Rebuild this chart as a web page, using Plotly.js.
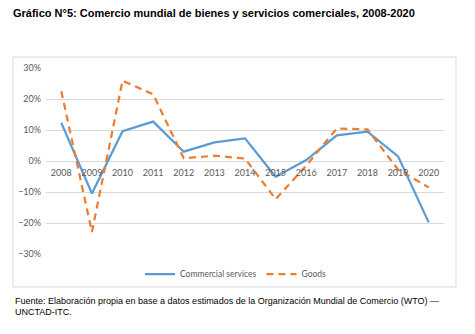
<!DOCTYPE html>
<html>
<head>
<meta charset="utf-8">
<script src="https://cdn.plot.ly/plotly-3.0.1.min.js"></script>
<style>
  html, body { margin: 0; padding: 0; background: #fff; }
  #chart { width: 475px; height: 334px; }
</style>
</head>
<body>
<div id="chart"></div>
<script>
const years = ['2008','2009','2010','2011','2012','2013','2014','2015','2016','2017','2018','2019','2020'];
const commercialServices = [0.123, -0.105, 0.096, 0.127, 0.030, 0.060, 0.073, -0.051, 0.003, 0.083, 0.095, 0.015, -0.198];
const goods = [0.225, -0.229, 0.259, 0.215, 0.009, 0.017, 0.008, -0.123, -0.015, 0.105, 0.102, -0.028, -0.085];
const yTickVals = [-0.3, -0.2, -0.1, 0, 0.1, 0.2, 0.3];
const titleText = 'Gráfico N°5: Comercio mundial de bienes y servicios comerciales, 2008-2020';
const sourceLine1 = 'Fuente: Elaboración propia en base a datos estimados de la Organización Mundial de Comercio (WTO) —';
const sourceLine2 = 'UNCTAD-ITC.';

const W = 475, H = 334;
const m = {l: 46, r: 31, t: 68, b: 80};
const pw = W - m.l - m.r, ph = H - m.t - m.b;
const px = x => (x - m.l) / pw;
const py = y => (H - m.b - y) / ph;

const tickFont = {family: 'Lato, "Liberation Sans", sans-serif', size: 9, color: '#595959'};
const legendFont = {family: 'Lato, "Liberation Sans", sans-serif', size: 8.5, color: '#595959'};

const traces = [
  {x: years, y: commercialServices, type: 'scatter', mode: 'lines', name: 'Commercial services',
   line: {color: '#5b9bd5', width: 2.25}},
  {x: years, y: goods, type: 'scatter', mode: 'lines', name: 'Goods',
   line: {color: '#ed7d31', width: 2.25, dash: '7px,5px'}}
];

const layout = {
  width: W, height: H,
  margin: m,
  paper_bgcolor: '#fff', plot_bgcolor: '#fff',
  showlegend: true,
  title: {text: titleText, x: 13 / W, xanchor: 'left', xref: 'container',
          y: 1 - 13 / H, yanchor: 'middle', yref: 'container',
          font: {family: '"Liberation Sans", Arial, sans-serif', size: 11, color: '#000', weight: 'bold'}},
  xaxis: {type: 'category', range: [-0.5, 12.5], anchor: 'free', position: 0.5,
          showgrid: false, zeroline: false, showline: false, ticks: '',
          tickfont: tickFont, ticklabelstandoff: 5, fixedrange: true},
  yaxis: {range: [-0.3, 0.3], tickvals: yTickVals, tickformat: '.0%',
          showgrid: true, gridcolor: '#d9d9d9', gridwidth: 1, zeroline: false,
          showline: false, ticks: '', tickfont: tickFont, ticklabelstandoff: 4, fixedrange: true},
  legend: {orientation: 'h', x: px(236), xanchor: 'center', y: py(274), yanchor: 'middle',
           font: legendFont, bgcolor: 'rgba(0,0,0,0)', itemwidth: 30, tracegroupgap: 0},
  shapes: [{type: 'rect', xref: 'paper', yref: 'paper',
            x0: px(13), x1: px(456), y0: py(287), y1: py(57),
            line: {color: '#d9d9d9', width: 1}, fillcolor: 'rgba(0,0,0,0)', layer: 'below'}],
  annotations: [
    {text: sourceLine1, xref: 'paper', yref: 'paper', x: px(13), y: py(301), xanchor: 'left', yanchor: 'middle',
     showarrow: false, font: {family: '"Liberation Sans", Arial, sans-serif', size: 9, color: '#000'}},
    {text: sourceLine2, xref: 'paper', yref: 'paper', x: px(13), y: py(312), xanchor: 'left', yanchor: 'middle',
     showarrow: false, font: {family: '"Liberation Sans", Arial, sans-serif', size: 9, color: '#000'}}
  ]
};

Plotly.newPlot('chart', traces, layout, {displayModeBar: false, staticPlot: true});
</script>
</body>
</html>
